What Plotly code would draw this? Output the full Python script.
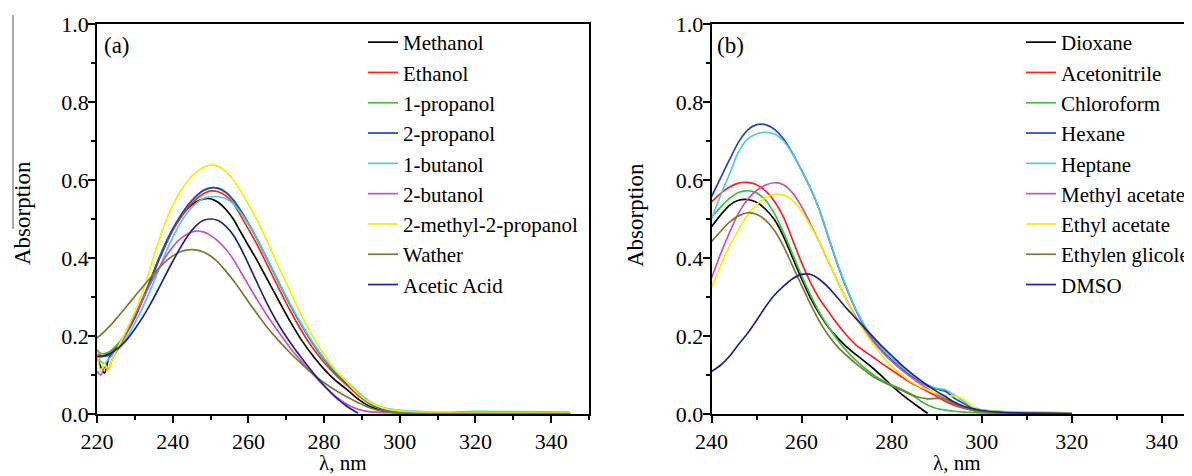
import plotly.graph_objects as go

# ---------------- Panel (a) data ----------------
wl_a = [220, 221, 222, 223, 224, 226, 228, 230, 232, 234, 236, 238, 240, 242, 244, 246, 248, 250,
        252, 254, 256, 258, 260, 262, 265, 268, 271, 274, 277, 280, 283, 286, 289, 292, 295, 298,
        302, 306, 312, 320, 330, 345]

methanol = [0.150, 0.120, 0.105, 0.140, 0.155, 0.180, 0.213, 0.250, 0.293, 0.340, 0.390, 0.435, 0.472, 0.503, 0.527, 0.543, 0.551, 0.552,
            0.543, 0.525, 0.500, 0.466, 0.432, 0.399, 0.345, 0.291, 0.238, 0.190, 0.150, 0.115, 0.086, 0.063, 0.038, 0.020, 0.010, 0.006,
            0.003, 0.002, 0.001, 0.001, 0.001, 0.001]
ethanol = [0.155, 0.150, 0.150, 0.155, 0.163, 0.183, 0.213, 0.248, 0.292, 0.337, 0.386, 0.430, 0.470, 0.502, 0.528, 0.549, 0.564, 0.572,
           0.570, 0.560, 0.540, 0.508, 0.474, 0.440, 0.382, 0.323, 0.266, 0.214, 0.169, 0.132, 0.101, 0.074, 0.048, 0.027, 0.014, 0.008,
           0.005, 0.003, 0.002, 0.002, 0.002, 0.002]
propanol_1 = [0.165, 0.155, 0.155, 0.158, 0.165, 0.185, 0.215, 0.250, 0.295, 0.340, 0.390, 0.435, 0.475, 0.507, 0.535, 0.556, 0.572, 0.580,
              0.578, 0.568, 0.548, 0.519, 0.487, 0.453, 0.395, 0.337, 0.280, 0.228, 0.181, 0.140, 0.106, 0.079, 0.052, 0.027, 0.013, 0.008,
              0.005, 0.003, 0.002, 0.002, 0.002, 0.002]
propanol_2 = [0.148, 0.147, 0.148, 0.150, 0.155, 0.178, 0.210, 0.247, 0.292, 0.338, 0.388, 0.434, 0.474, 0.507, 0.535, 0.557, 0.573, 0.580,
              0.579, 0.569, 0.549, 0.521, 0.489, 0.455, 0.397, 0.338, 0.281, 0.229, 0.182, 0.141, 0.107, 0.080, 0.053, 0.028, 0.014, 0.008,
              0.005, 0.003, 0.002, 0.002, 0.002, 0.002]
butanol_1 = [0.150, 0.135, 0.130, 0.140, 0.150, 0.170, 0.198, 0.233, 0.272, 0.315, 0.362, 0.410, 0.452, 0.489, 0.518, 0.539, 0.552, 0.557,
             0.557, 0.552, 0.539, 0.516, 0.487, 0.455, 0.397, 0.339, 0.283, 0.231, 0.184, 0.143, 0.110, 0.083, 0.056, 0.032, 0.018, 0.012,
             0.008, 0.006, 0.004, 0.007, 0.006, 0.005]
butanol_2 = [0.110, 0.100, 0.120, 0.115, 0.140, 0.175, 0.213, 0.253, 0.293, 0.332, 0.368, 0.401, 0.428, 0.449, 0.462, 0.469, 0.467, 0.458,
             0.443, 0.423, 0.397, 0.364, 0.331, 0.298, 0.252, 0.210, 0.170, 0.135, 0.102, 0.072, 0.046, 0.025, 0.012, 0.006, 0.004, 0.003,
             0.002, 0.002, 0.001, 0.001, 0.001, 0.001]
methyl_propanol = [0.160, 0.110, 0.130, 0.110, 0.140, 0.180, 0.220, 0.262, 0.312, 0.372, 0.435, 0.490, 0.535, 0.570, 0.598, 0.618, 0.632, 0.638,
                   0.635, 0.622, 0.600, 0.571, 0.538, 0.503, 0.442, 0.378, 0.315, 0.254, 0.199, 0.152, 0.113, 0.082, 0.052, 0.030, 0.017, 0.010,
                   0.006, 0.004, 0.003, 0.003, 0.003, 0.003]
water = [0.195, 0.203, 0.212, 0.222, 0.232, 0.255, 0.278, 0.302, 0.325, 0.348, 0.370, 0.390, 0.405, 0.416, 0.421, 0.421, 0.416, 0.405,
         0.389, 0.367, 0.343, 0.316, 0.288, 0.261, 0.222, 0.188, 0.157, 0.129, 0.103, 0.080, 0.061, 0.044, 0.029, 0.016, 0.008, 0.004,
         0.002, 0.001, 0.001, 0.001, 0.001, 0.001]
acetic_acid = [0.148, 0.148, 0.150, 0.153, 0.158, 0.172, 0.192, 0.218, 0.247, 0.280, 0.316, 0.354, 0.391, 0.426, 0.457, 0.481, 0.496, 0.500,
               0.496, 0.482, 0.459, 0.425, 0.385, 0.343, 0.282, 0.229, 0.184, 0.144, 0.107, 0.073, 0.043, 0.020, 0.002, None, None, None,
               None, None, None, None, None, None]

names_a = ["Methanol", "Ethanol", "1-propanol", "2-propanol", "1-butanol", "2-butanol",
           "2-methyl-2-propanol", "Wather", "Acetic Acid"]
series_a = [methanol, ethanol, propanol_1, propanol_2, butanol_1, butanol_2, methyl_propanol, water, acetic_acid]

# ---------------- Panel (b) data ----------------
wl_b = [240, 242, 244, 246, 248, 250, 252, 254, 256, 258, 260, 262, 264, 266, 268, 270, 272, 274, 276, 278,
        280, 282, 284, 286, 288, 290, 292, 294, 296, 298, 300, 304, 308, 314, 320]

dioxane = [0.480, 0.510, 0.535, 0.548, 0.550, 0.543, 0.525, 0.498, 0.455, 0.401, 0.347, 0.297, 0.256, 0.222, 0.195, 0.172, 0.153, 0.135, 0.116, 0.095,
           0.073, 0.053, 0.035, 0.018, 0.002, None, None, None, None, None, None, None, None, None, None]
acetonitrile = [0.544, 0.565, 0.582, 0.592, 0.594, 0.588, 0.572, 0.545, 0.505, 0.447, 0.388, 0.337, 0.295, 0.262, 0.230, 0.202, 0.178, 0.161, 0.145, 0.128,
                0.113, 0.097, 0.082, 0.070, 0.058, 0.045, 0.032, 0.022, 0.015, 0.010, 0.006, 0.004, 0.003, 0.002, 0.001]
chloroform = [0.505, 0.530, 0.553, 0.568, 0.573, 0.567, 0.548, 0.513, 0.465, 0.410, 0.355, 0.305, 0.260, 0.223, 0.190, 0.162, 0.138, 0.118, 0.100, 0.086,
              0.075, 0.065, 0.053, 0.037, 0.023, 0.014, 0.010, 0.007, 0.005, 0.004, 0.003, 0.002, 0.002, 0.001, 0.001]
hexane = [0.557, 0.605, 0.652, 0.697, 0.728, 0.742, 0.742, 0.730, 0.705, 0.668, 0.625, 0.578, 0.522, 0.452, 0.383, 0.322, 0.268, 0.224, 0.190, 0.163,
          0.140, 0.120, 0.100, 0.085, 0.072, 0.064, 0.058, 0.040, 0.027, 0.016, 0.010, 0.006, 0.004, 0.003, 0.002]
heptane = [0.500, 0.560, 0.615, 0.672, 0.705, 0.718, 0.722, 0.718, 0.700, 0.667, 0.625, 0.578, 0.522, 0.454, 0.385, 0.324, 0.270, 0.227, 0.193, 0.166,
           0.143, 0.123, 0.104, 0.088, 0.075, 0.066, 0.062, 0.048, 0.032, 0.018, 0.011, 0.007, 0.005, 0.004, 0.003]
methyl_acetate = [0.348, 0.410, 0.465, 0.515, 0.550, 0.573, 0.587, 0.593, 0.588, 0.567, 0.532, 0.487, 0.440, 0.390, 0.340, 0.292, 0.250, 0.215, 0.185, 0.158,
                  0.135, 0.115, 0.097, 0.080, 0.065, 0.050, 0.038, 0.025, 0.017, 0.011, 0.007, 0.004, 0.003, 0.002, 0.001]
ethyl_acetate = [0.322, 0.380, 0.430, 0.472, 0.510, 0.537, 0.555, 0.563, 0.562, 0.548, 0.520, 0.482, 0.440, 0.391, 0.340, 0.291, 0.247, 0.210, 0.177, 0.148,
                 0.122, 0.103, 0.085, 0.072, 0.062, 0.053, 0.048, 0.045, 0.038, 0.018, 0.010, 0.006, 0.004, 0.003, 0.002]
ethylen_glicole = [0.442, 0.468, 0.492, 0.508, 0.516, 0.512, 0.497, 0.470, 0.430, 0.380, 0.330, 0.281, 0.237, 0.201, 0.172, 0.150, 0.130, 0.112, 0.095, 0.083,
                   0.072, 0.062, 0.051, 0.043, 0.039, 0.040, 0.038, 0.026, 0.017, 0.010, 0.006, 0.003, 0.002, 0.001, 0.001]
dmso = [0.109, 0.125, 0.148, 0.178, 0.207, 0.240, 0.275, 0.305, 0.328, 0.347, 0.358, 0.358, 0.345, 0.324, 0.298, 0.271, 0.246, 0.221, 0.196, 0.172,
        0.150, 0.128, 0.108, 0.090, 0.073, 0.058, 0.044, 0.030, 0.020, 0.014, 0.009, 0.005, 0.003, 0.002, 0.001]

names_b = ["Dioxane", "Acetonitrile", "Chloroform", "Hexane", "Heptane", "Methyl acetate",
           "Ethyl acetate", "Ethylen glicole", "DMSO"]
series_b = [dioxane, acetonitrile, chloroform, hexane, heptane, methyl_acetate, ethyl_acetate, ethylen_glicole, dmso]

colors = ["#000000", "#FF2020", "#3DBE3D", "#2846B4", "#50C8E6", "#C850C0", "#F2F000", "#7A7A30", "#22228A"]

x_ticks_a = [220, 240, 260, 280, 300, 320, 340]
x_ticks_b = [240, 260, 280, 300, 320, 340]
y_ticks = [0.0, 0.2, 0.4, 0.6, 0.8, 1.0]

# ---------------- Figure ----------------
# the page body adds an 8 px margin, so the figure is 8 px smaller than the window
W, H = 1184, 468
OFF = 8
FONT = "'Liberation Serif', 'Times New Roman', Times, serif"


def px(xp):  # page x -> paper fraction
    return (xp - OFF) / W


def py(yp):  # page y (from top) -> paper fraction
    return (H - (yp - OFF)) / H


fig = go.Figure()
for name, ys, c in zip(names_a, series_a, colors):
    fig.add_trace(go.Scatter(x=wl_a, y=ys, name=name, mode="lines",
                             line=dict(color=c, width=1.7, shape="spline", smoothing=0.8),
                             xaxis="x", yaxis="y", legend="legend"))
for name, ys, c in zip(names_b, series_b, colors):
    fig.add_trace(go.Scatter(x=wl_b, y=ys, name=name, mode="lines",
                             line=dict(color=c, width=1.7, shape="spline", smoothing=0.8),
                             xaxis="x2", yaxis="y2", legend="legend2"))

ydom = [py(414), py(24)]
axis_common = dict(showgrid=False, zeroline=False, showline=True, linecolor="black", linewidth=1.8,
                   mirror=True, ticks="outside", ticklen=7, tickwidth=1.5, tickcolor="black",
                   automargin=False,
                   tickfont=dict(family=FONT, size=22, color="black"))
minor_x = dict(dtick=10, ticklen=4, tickwidth=1.5, tickcolor="black", ticks="outside")
minor_y = dict(dtick=0.1, ticklen=4, tickwidth=1.5, tickcolor="black", ticks="outside")

fig.update_layout(
    width=W, height=H,
    margin=dict(l=0, r=0, t=0, b=0, autoexpand=False),
    paper_bgcolor="white", plot_bgcolor="white",
    font=dict(family=FONT, size=22, color="black"),
    xaxis=dict(domain=[px(97), px(589)], range=[220, 350], tickvals=x_ticks_a, minor=minor_x,
               anchor="y", **axis_common),
    yaxis=dict(domain=ydom, range=[0, 1.0], tickvals=y_ticks, tickformat=".1f", minor=minor_y,
               anchor="x", ticklabelstandoff=-5, **axis_common),
    xaxis2=dict(domain=[px(711.5), 1.0], range=[240, 346.7], tickvals=x_ticks_b, minor=minor_x,
                anchor="y2", **axis_common),
    yaxis2=dict(domain=ydom, range=[0, 1.0], tickvals=y_ticks, tickformat=".1f", minor=minor_y,
                anchor="x2", ticklabelstandoff=-5, **axis_common),
    legend=dict(x=px(355 + OFF), y=py(22), xanchor="left", yanchor="top",
                bgcolor="rgba(0,0,0,0)", font=dict(family=FONT, size=21, color="black")),
    legend2=dict(x=px(1013 + OFF), y=py(22), xanchor="left", yanchor="top",
                 bgcolor="rgba(0,0,0,0)", font=dict(family=FONT, size=21, color="black")),
    showlegend=True,
)

annots = [
    dict(text="(a)", x=px(103), y=py(45), xanchor="left", yanchor="middle", size=23),
    dict(text="(b)", x=px(716), y=py(45), xanchor="left", yanchor="middle", size=23),
    dict(text="Absorption", x=px(22), y=py(213), textangle=-90, xanchor="center", yanchor="middle", size=23),
    dict(text="Absorption", x=px(635), y=py(215), textangle=-90, xanchor="center", yanchor="middle", size=23),
    dict(text="λ, nm", x=px(343), y=0, xanchor="center", yanchor="bottom", size=21),
    dict(text="λ, nm", x=px(957), y=0, xanchor="center", yanchor="bottom", size=21),
]
for a in annots:
    size = a.pop("size")
    fig.add_annotation(xref="paper", yref="paper", showarrow=False, borderpad=0,
                       font=dict(family=FONT, size=size, color="black"), **a)

fig.add_shape(type="line", xref="paper", yref="paper", x0=px(13), x1=px(13),
              y0=py(15), y1=py(229), line=dict(color="#555555", width=1))

fig.write_html("out.html")
